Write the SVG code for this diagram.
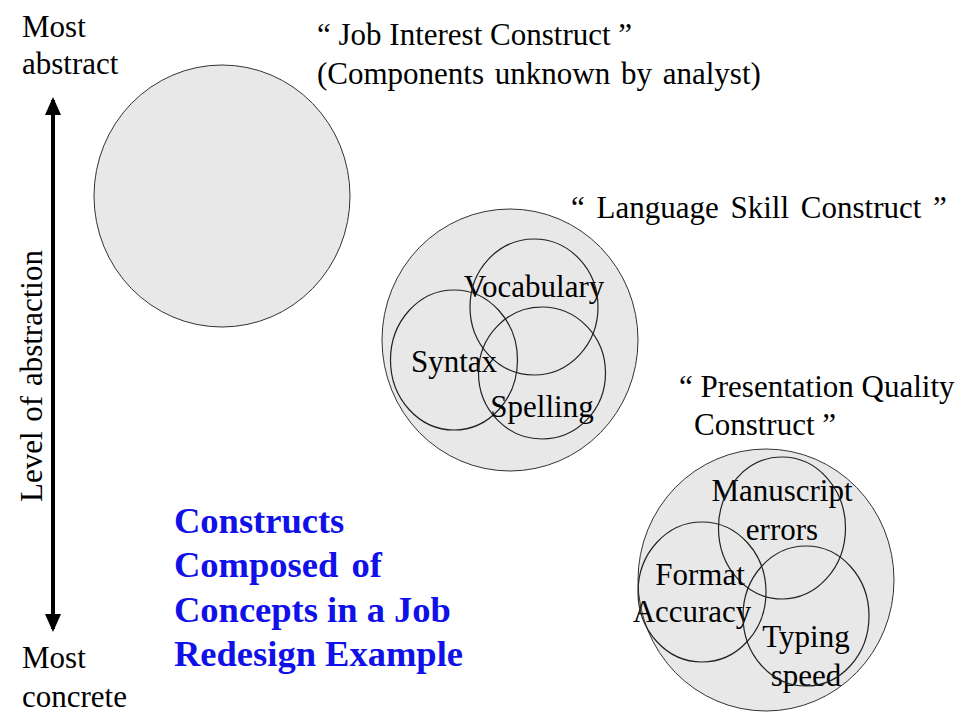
<svg xmlns="http://www.w3.org/2000/svg" width="960" height="720" viewBox="0 0 960 720">
<defs>
<style>
.t{font-family:"Liberation Serif","Times New Roman",serif;font-size:31px;fill:#000}
.c{text-anchor:middle}
.blue{font-family:"Liberation Serif","Times New Roman",serif;font-size:36.5px;font-weight:bold;fill:#1010e8}
.outer{fill:#e8e8e8;stroke:#333;stroke-width:1}
.inner{fill:none;stroke:#222;stroke-width:1.2}
.axis{stroke:#000;stroke-width:4;fill:none}
</style>
<marker id="ah" viewBox="0 0 18 16" refX="15" refY="8" markerWidth="18" markerHeight="16" markerUnits="userSpaceOnUse" orient="auto-start-reverse">
<path d="M0,0 L18,8 L0,16 Z" fill="#000"/>
</marker>
</defs>
<rect width="960" height="720" fill="#fff"/>

<g id="connectors">
<line class="axis" x1="53" y1="629" x2="53" y2="100" marker-end="url(#ah)" marker-start="url(#ah)"/>
</g>

<g id="axis-labels">
<text class="t" x="22" y="37">Most</text>
<text class="t" x="22" y="74">abstract</text>
<text class="t" x="22" y="668">Most</text>
<text class="t" x="22" y="707">concrete</text>
<text class="t c" transform="translate(42,376) rotate(-90)" word-spacing="2">Level of abstraction</text>
</g>

<g id="job-interest">
<ellipse class="outer" cx="222" cy="196" rx="128" ry="131"/>
<text class="t" x="317" y="45">“ Job Interest Construct ”</text>
<text class="t" x="317" y="84" word-spacing="3">(Components unknown by analyst)</text>
</g>

<g id="language-skill">
<ellipse class="outer" cx="510" cy="340" rx="128" ry="131"/>
<text class="t" x="571" y="218" word-spacing="4">“ Language  Skill Construct ”</text>
<g id="vocabulary">
<text class="t c" x="534" y="297">Vocabulary</text>
<ellipse class="inner" cx="534" cy="307" rx="64" ry="68"/>
</g>
<g id="syntax">
<text class="t c" x="454" y="372">Syntax</text>
<ellipse class="inner" cx="454" cy="360" rx="63.5" ry="70"/>
</g>
<g id="spelling">
<text class="t c" x="542" y="417">Spelling</text>
<ellipse class="inner" cx="542" cy="373" rx="63.5" ry="66"/>
</g>
</g>

<g id="presentation-quality">
<ellipse class="outer" cx="766" cy="580" rx="128" ry="131"/>
<text class="t" x="679" y="397">“ Presentation Quality</text>
<text class="t" x="694" y="435">Construct ”</text>
<g id="manuscript">
<text class="t c" x="782" y="501">Manuscript</text>
<text class="t c" x="782" y="540">errors</text>
<ellipse class="inner" cx="782" cy="528" rx="63.5" ry="71"/>
</g>
<g id="format">
<text class="t c" x="700" y="585">Format</text>
<text class="t c" x="692" y="622">Accuracy</text>
<ellipse class="inner" cx="702" cy="592" rx="64" ry="70"/>
</g>
<g id="typing">
<text class="t c" x="806" y="647">Typing</text>
<text class="t c" x="806" y="686">speed</text>
<ellipse class="inner" cx="806" cy="616" rx="63" ry="70"/>
</g>
</g>

<g id="title">
<text class="blue" x="174" y="533">Constructs</text>
<text class="blue" x="174" y="577" word-spacing="4">Composed of</text>
<text class="blue" x="174" y="622">Concepts in a Job</text>
<text class="blue" x="174" y="666">Redesign Example</text>
</g>
</svg>
